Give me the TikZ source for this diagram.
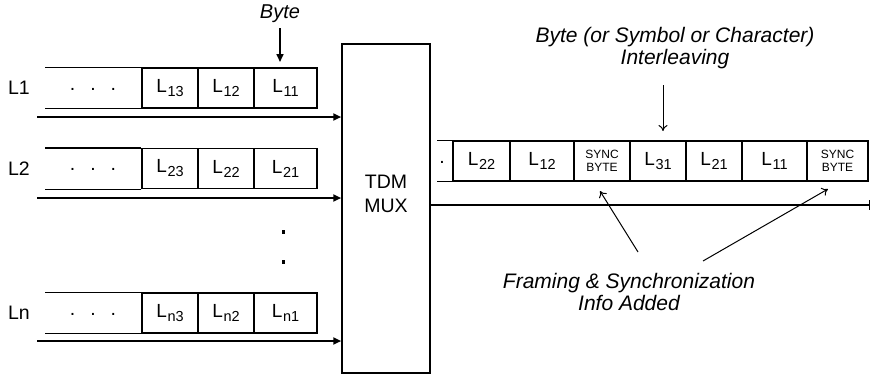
\documentclass[tikz,border=0pt]{standalone}
\usepackage{fontspec}
\setmainfont{Liberation Sans}
\usetikzlibrary{arrows.meta}
\newcommand{\Lsub}[1]{L\kern0.8pt\raisebox{-4pt}{\fontsize{14.5}{15}\selectfont #1}}
\tikzset{
  cell/.style={draw, line width=1.2pt, minimum height=40pt, inner sep=0pt, font=\fontsize{19}{22}\selectfont},
  syncc/.style={cell, font=\fontsize{12}{12.5}\selectfont, align=center},
  lbl/.style={inner sep=0pt, font=\fontsize{19.5}{22}\selectfont},
  ital/.style={inner sep=0pt, align=center, font=\fontsize{21}{23}\selectfont\itshape},
  edge/.style={line width=1.2pt},
  vdot/.style={fill=black, minimum size=3.5pt, inner sep=0pt},
  inarrow/.style={line width=2.4pt, -{Triangle[length=8pt,width=7pt]}},
  thinarrow/.style={line width=1pt, -{To[length=6pt,width=9pt]}},
}
\begin{document}
\begin{tikzpicture}[x=1pt,y=-1pt]
\useasboundingbox (0,0) rectangle (871,378);
% MUX
\node[draw, line width=1.5pt, minimum width=88pt, minimum height=329pt, inner sep=0pt] (mux) at (386,208.5) {};
\node[lbl, align=center] (muxt) at (386,194) {TDM\\[2pt]MUX};
% Byte label
\node[ital, font=\fontsize{20}{22}\selectfont\itshape] (byte) at (280,14) {Byte};
\coordinate (bytetip) at (280,62);
\draw[line width=1.6pt, -{Triangle[length=8pt,width=7pt]}] (byte.south) ++(0,5) -- (bytetip);
% Rows
\foreach \r/\y/\ya/\nm in {1/88/117/1, 2/168.5/198/2, 3/313/341/n}{
  \node[lbl] (lab\r) at (19,\y) {L\nm};
  \node[cell, minimum width=56pt] (c\r3) at (170,\y) {\Lsub{\nm3}};
  \node[cell, minimum width=56pt] (c\r2) at (226,\y) {\Lsub{\nm2}};
  \node[cell, minimum width=63pt] (c\r1) at (285.5,\y) {\Lsub{\nm1}};
  \coordinate (o\r) at (45,\y);
  \draw[edge] (c\r3.north west) -- (o\r |- c\r3.north);
  \draw[edge] (c\r3.south west) -- (o\r |- c\r3.south);
  \node[lbl] (d\r) at (93,\y+1) {.\hspace{15pt}.\hspace{15pt}.};
  \coordinate (s\r) at (37,\ya);
  \draw[inarrow] (s\r) -- (s\r -| mux.west);
}
% vertical dots
\node[vdot] (vd1) at (283.5,232) {};
\node[vdot] (vd2) at (283.5,262) {};
% Output frame
\node[cell, minimum width=57pt] (f1) at (481.5,161) {\Lsub{22}};
\node[cell, minimum width=64pt] (f2) at (542,161) {\Lsub{12}};
\node[syncc, minimum width=56pt] (f3) at (602,161) {SYNC\\BYTE};
\node[cell, minimum width=56pt] (f4) at (658,161) {\Lsub{31}};
\node[cell, minimum width=56pt] (f5) at (714,161) {\Lsub{21}};
\node[cell, minimum width=65pt] (f6) at (774.5,161) {\Lsub{11}};
\node[syncc, minimum width=61pt] (f7) at (837.5,161) {SYNC\\BYTE};
\coordinate (fo) at (437,161);
\draw[edge] (f1.north west) -- (fo |- f1.north);
\draw[edge] (f1.south west) -- (fo |- f1.south);
\node[lbl] (fd) at (442,162) {.};
% output line
\coordinate (oend) at (869.5,205);
\draw[line width=2.6pt] (mux.east |- oend) -- (oend);
\draw[line width=1.2pt] (869.5,200) -- (869.5,210);
% Interleaving
\node[ital] (inter) at (675,48) {Byte (or Symbol or Character)\\[-1pt]Interleaving};
\coordinate (itop) at (663,85);
\coordinate (itip) at (663,131);
\draw[thinarrow] (itop) -- (itip);
% Framing
\node[ital] (fram) at (629,292) {Framing \& Synchronization\\[-1pt]Info Added};
\coordinate (fa1) at (638,252);
\coordinate (fa2) at (703,261);
\coordinate (ft1) at (600,191);
\coordinate (ft2) at (828,189);
\draw[thinarrow] (fa1) -- (ft1);
\draw[thinarrow] (fa2) -- (ft2);
\end{tikzpicture}
\end{document}
